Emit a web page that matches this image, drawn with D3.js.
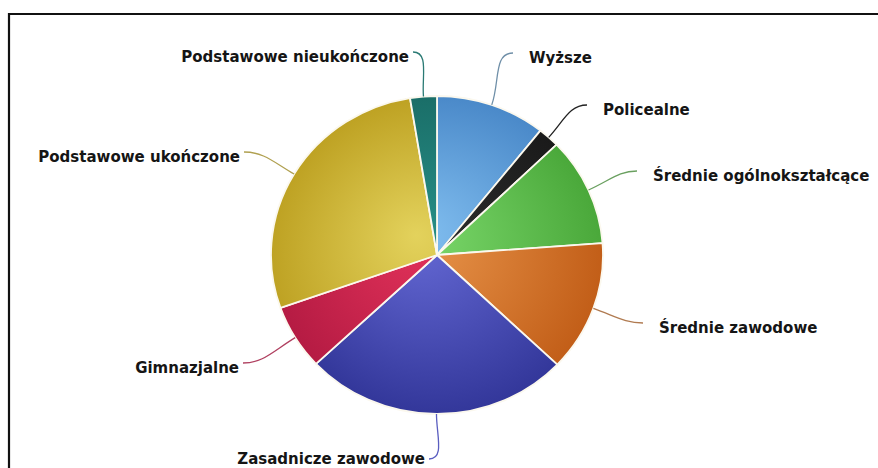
<!DOCTYPE html>
<html>
<head>
<meta charset="utf-8">
<script src="https://cdn.jsdelivr.net/npm/d3@7"></script>
<style>
html,body{margin:0;padding:0;background:#fff;}
svg{display:block;}
text{font-family:"DejaVu Sans",sans-serif;font-weight:bold;font-size:15px;fill:#151515;}
</style>
</head>
<body>
<svg id="chart" width="878" height="468"></svg>
<script>
// Data
const categories = ["Wyższe","Policealne","Średnie ogólnokształcące","Średnie zawodowe","Zasadnicze zawodowe","Gimnazjalne","Podstawowe ukończone","Podstawowe nieukończone"];
const values = [10.7, 2.1, 11.0, 13.3, 25.9, 6.6, 27.8, 2.6];

// Styles
const innerColors = ["#82bff0","#2e2e2e","#7cd96c","#e9964c","#666ad6","#e2325a","#e3d25c","#278e86"];
const outerColors = ["#4a89c9","#1a1a1a","#4aa83a","#c25e18","#33379a","#b51b43","#bea223","#1a6e68"];
const lineColors  = ["#6f8fa8","#222222","#6aa060","#b07a50","#5a5ec0","#b04060","#b0a050","#2a7a74"];

// Layout (label anchors: end of leader line; side: 1 = text to the right, -1 = text to the left)
const labelLayout = [
  {ax:513, ay:53,  side: 1, dy:9.5},
  {ax:587, ay:105, side: 1, dy:9.5},
  {ax:637, ay:171, side: 1, dy:9.5},
  {ax:643, ay:323, side: 1, dy:9.5},
  {ax:429, ay:459, side:-1, dy:5},
  {ax:243, ay:363, side:-1, dy:9.5},
  {ax:244, ay:152, side:-1, dy:9.5},
  {ax:413, ay:52,  side:-1, dy:9.5}
];

const W = 878, H = 468;
const cx = 437, cy = 255, ry = 159, rx = 166;
const svg = d3.select("#chart");

// Border
svg.append("path")
  .attr("d", `M${W+5},14 L9,14 L9,${H+5}`)
  .attr("fill","none").attr("stroke","#111").attr("stroke-width",2.2);

const defs = svg.append("defs");
categories.forEach((c,i)=>{
  const g = defs.append("radialGradient")
    .attr("id","g"+i).attr("gradientUnits","userSpaceOnUse")
    .attr("cx",0).attr("cy",0).attr("r",ry).attr("fx",-20).attr("fy",-20);
  g.append("stop").attr("offset","0%").attr("stop-color",innerColors[i]);
  g.append("stop").attr("offset","100%").attr("stop-color",outerColors[i]);
});

const pie = d3.pie().sort(null).value(d=>d.v).startAngle(0).endAngle(2*Math.PI);
const arcs = pie(categories.map((c,i)=>({c, v: values[i], i})));
const arc = d3.arc().innerRadius(0).outerRadius(ry);

const gp = svg.append("g").attr("transform",`translate(${cx},${cy}) scale(${rx/ry},1)`);
gp.selectAll("path.slice").data(arcs).join("path")
  .attr("class","slice")
  .attr("d", arc)
  .attr("fill", d=>`url(#g${d.data.i})`)
  .attr("stroke","#fbf8ee")
  .attr("stroke-width",1.8)
  .attr("stroke-linejoin","round")
  .attr("vector-effect","non-scaling-stroke");

// Leader lines and labels
const gl = svg.append("g");
arcs.forEach((d,i)=>{
  const a = (d.startAngle + d.endAngle)/2;
  const x0 = cx + rx*Math.sin(a), y0 = cy - ry*Math.cos(a);
  const L = labelLayout[i];
  const len = Math.hypot(L.ax-x0, L.ay-y0);
  const x1 = x0 + Math.sin(a)*len*0.45, y1 = y0 - Math.cos(a)*len*0.45;
  const x2 = L.ax - L.side*len*0.35, y2 = L.ay;
  const p = d3.path();
  p.moveTo(x0,y0); p.bezierCurveTo(x1,y1,x2,y2,L.ax,L.ay);
  gl.append("path").attr("d",p.toString()).attr("fill","none")
    .attr("stroke",lineColors[i]).attr("stroke-width",1.3);
  gl.append("text")
    .attr("x", L.side>0 ? L.ax+16 : L.ax-4)
    .attr("y", L.ay + L.dy)
    .attr("text-anchor", L.side>0 ? "start" : "end")
    .text(categories[i]);
});
</script>
</body>
</html>
